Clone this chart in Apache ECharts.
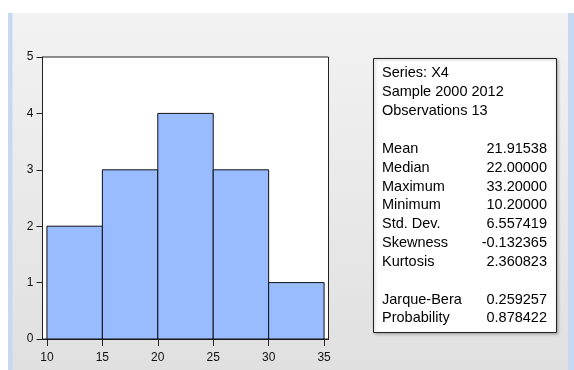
<!DOCTYPE html>
<html>
<head>
<meta charset="utf-8">
<script src="https://cdn.jsdelivr.net/npm/echarts@6/dist/echarts.min.js"></script>
<style>
  html, body { margin: 0; padding: 0; background: #fff; }
  #chart { width: 574px; height: 370px; }
</style>
</head>
<body>
<div id="chart"></div>
<script>
// histogram bins (lower edge) and counts
var binStarts = [10, 15, 20, 25, 30];
var binWidth = 5;
var counts = [2, 3, 4, 3, 1];
var xTicks = [10, 15, 20, 25, 30, 35];

// descriptive statistics box
var statHead = ['Series: X4', 'Sample 2000 2012', 'Observations 13'];
var statNames = ['Mean', 'Median', 'Maximum', 'Minimum', 'Std. Dev.', 'Skewness', 'Kurtosis'];
var statValues = ['21.91538', '22.00000', '33.20000', '10.20000', '6.557419', '-0.132365', '2.360823'];
var testNames = ['Jarque-Bera', 'Probability'];
var testValues = ['0.259257', '0.878422'];

var chartDom = document.getElementById('chart');
var myChart = echarts.init(chartDom);

var histData = binStarts.map(function (s, i) {
  return [s, s + binWidth, counts[i]];
});

var leftLines = statHead.concat([''], statNames, [''], testNames).join('\n');
var rightLines = ['', '', '', ''].concat(statValues, [''], testValues).join('\n');

var font = 'Liberation Sans, Arial, sans-serif';

var option = {
  animation: false,
  backgroundColor: {
    type: 'linear', x: 0, y: 0, x2: 0, y2: 1,
    colorStops: [
      { offset: 0, color: '#f3f3f3' },
      { offset: 1, color: '#e0e0e0' }
    ]
  },
  graphic: [
    // window chrome: white top strip and blue side borders
    { type: 'rect', shape: { x: 0, y: 0, width: 574, height: 13 }, style: { fill: '#ffffff' }, z: -10 },
    { type: 'rect', shape: { x: 0, y: 13, width: 8, height: 357 }, style: { fill: '#ffffff' }, z: -10 },
    { type: 'rect', shape: { x: 8, y: 13, width: 4.5, height: 357 }, style: { fill: '#c7d9f1' }, z: -10 },
    { type: 'rect', shape: { x: 568, y: 13, width: 6, height: 357 }, style: { fill: '#c7d9f1' }, z: -10 },
    // stats box
    {
      type: 'rect',
      shape: { x: 373.5, y: 58.5, width: 183, height: 274 },
      style: { fill: '#ffffff', stroke: '#222', lineWidth: 1, shadowBlur: 3, shadowColor: 'rgba(0,0,0,0.3)', shadowOffsetX: 1, shadowOffsetY: 1 }
    },
    {
      type: 'text', x: 382, y: 64,
      style: { text: leftLines, font: '14.5px ' + font, fill: '#000', lineHeight: 18.85, textVerticalAlign: 'top' }
    },
    {
      type: 'text', x: 547, y: 64,
      style: { text: rightLines, font: '14.5px ' + font, fill: '#000', lineHeight: 18.85, textAlign: 'right', textVerticalAlign: 'top' }
    }
  ],
  grid: {
    left: 42.5, right: 245.5, top: 57, bottom: 31,
    show: true, backgroundColor: '#ffffff', borderColor: '#222', borderWidth: 1
  },
  xAxis: {
    type: 'value',
    min: 9.6, max: 35.4,
    axisLine: { show: true, lineStyle: { color: '#222' } },
    axisTick: { show: true, length: 7, customValues: xTicks, lineStyle: { color: '#222' } },
    axisLabel: { customValues: xTicks, color: '#111', fontSize: 12, fontFamily: font, margin: 13 },
    splitLine: { show: false }
  },
  yAxis: {
    type: 'value',
    min: 0, max: 5, interval: 1,
    axisLine: { show: true, lineStyle: { color: '#222' } },
    axisTick: { show: true, length: 6, lineStyle: { color: '#222' } },
    axisLabel: { color: '#111', fontSize: 12, fontFamily: font, margin: 9 },
    splitLine: { show: false }
  },
  series: [
    {
      type: 'custom',
      renderItem: function (params, api) {
        var p0 = api.coord([api.value(0), api.value(2)]);
        var p1 = api.coord([api.value(1), 0]);
        return {
          type: 'rect',
          shape: { x: p0[0], y: p0[1], width: p1[0] - p0[0], height: p1[1] - p0[1] },
          style: { fill: '#99bbff', stroke: '#111', lineWidth: 1 }
        };
      },
      encode: { x: [0, 1], y: 2 },
      data: histData
    }
  ]
};

option && myChart.setOption(option);
</script>
</body>
</html>
